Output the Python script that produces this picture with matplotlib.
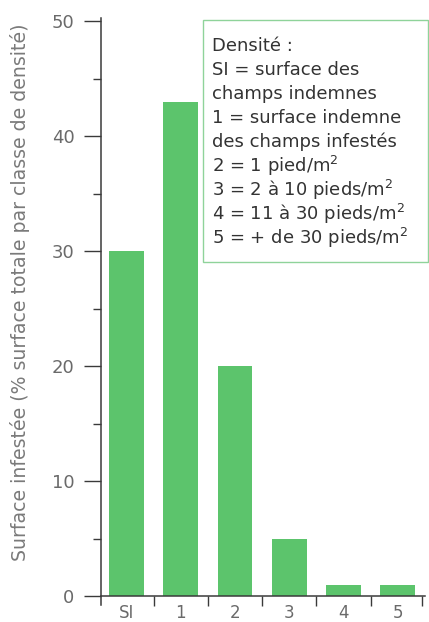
import matplotlib
matplotlib.use("Agg")
import matplotlib.pyplot as plt
from matplotlib.patches import Rectangle

categories = ["SI", "1", "2", "3", "4", "5"]
values = [30, 43, 20, 5, 1, 1]
yticks = [0, 10, 20, 30, 40, 50]
ylabel = "Surface infestée (% surface totale par classe de densité)"
legend_lines = [
    "Densité :",
    "SI = surface des",
    "champs indemnes",
    "1 = surface indemne",
    "des champs infestés",
    "2 = 1 pied/m$^2$",
    "3 = 2 à 10 pieds/m$^2$",
    "4 = 11 à 30 pieds/m$^2$",
    "5 = + de 30 pieds/m$^2$",
]

plt.rcParams['font.family'] = ['DejaVu Sans']
plt.rcParams['mathtext.default'] = 'regular'

W, H = 429, 622
fig = plt.figure(figsize=(W/100, H/100), dpi=100)
x0, x1 = 101, 425
ytop, ybot = 18, 605
ax = fig.add_axes([x0/W, 1 - ybot/H, (x1-x0)/W, (ybot-ytop)/H])

green = "#5cc46c"
axc = "#3a3a3a"
tc = "#6a6a6a"

xs = list(range(len(categories)))
ax.bar(xs, values, width=0.64, color=green, zorder=2)

ax.set_xlim(-0.47, 5.5)
ax.set_ylim(-(ybot-596)/11.5, 50 + (21-ytop)/11.5)

for s in ['top', 'right']:
    ax.spines[s].set_visible(False)
ax.spines['bottom'].set_position(('data', 0))
ax.spines['left'].set_color(axc)
ax.spines['bottom'].set_color(axc)
ax.spines['left'].set_linewidth(1.1)
ax.spines['bottom'].set_linewidth(1.1)

ax.set_yticks(yticks)
ax.set_yticks([5, 15, 25, 35, 45], minor=True)
ax.set_yticklabels([str(v) for v in yticks], fontsize=13, color=tc)
ax.tick_params(axis='y', which='major', length=12, width=1, color=axc, pad=7, direction='out')
ax.tick_params(axis='y', which='minor', length=6, width=1, color=axc, direction='out')

ax.set_xticks(xs)
ax.set_xticklabels(categories, fontsize=12, color=tc)
ax.set_xticks([0.5, 1.5, 2.5, 3.5, 4.5, 5.45], minor=True)
ax.tick_params(axis='x', which='major', length=0, pad=6)
ax.tick_params(axis='x', which='minor', length=7, width=1, color=axc, direction='out')

fig.text(20/W, 1 - 292/H, ylabel, rotation=90, ha='center', va='center',
         fontsize=13.6, color="#7a7a7a")

fig.patches.append(Rectangle((203/W, 1 - 262/H), (428-203)/W, (262-20)/H,
                             transform=fig.transFigure, fill=True, facecolor='white',
                             edgecolor="#8fd39a", linewidth=1.0, zorder=5))
for i, line in enumerate(legend_lines):
    fig.text(212/W, 1 - (46 + i*24)/H, line, fontsize=13, color="#333333",
             ha='left', va='center', zorder=6)

fig.savefig("out.png", dpi=100)
